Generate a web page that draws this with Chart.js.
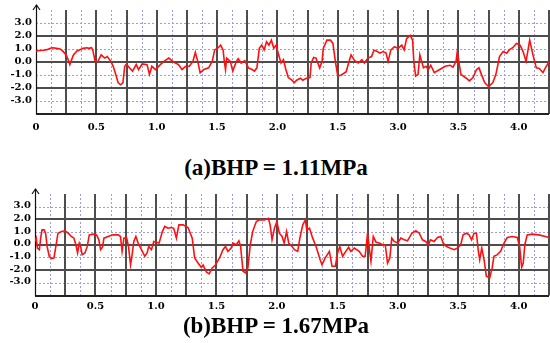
<!DOCTYPE html>
<html>
<head>
<meta charset="utf-8">
<script src="https://cdn.jsdelivr.net/npm/chart.js@4.4.0/dist/chart.umd.min.js"></script>
<style>
  body { margin: 0; background: #fff; }
  #wrap { position: relative; width: 550px; height: 343px; overflow: hidden; }
  #wrap canvas { position: absolute; left: 0; }
  #chartA { top: 0; }
  #chartB { top: 184px; }
  .caption {
    position: absolute; left: 0; width: 552px; text-align: center;
    font-family: "Liberation Serif", "Times New Roman", serif; font-weight: bold;
    font-size: 23px; line-height: 26px; color: #000;
  }
</style>
</head>
<body>
<div id="wrap">
  <canvas id="chartA" width="550" height="134"></canvas>
  <div class="caption" style="top:155px">(a)BHP = 1.11MPa</div>
  <canvas id="chartB" width="550" height="134"></canvas>
  <div class="caption" style="top:313px">(b)BHP = 1.67MPa</div>
</div>
<script>
// tick labels (the original figure prints "1.5" where 2.5 should be)
const xTickLabels = ["0", "0.5", "1.0", "1.5", "2.0", "1.5", "3.0", "3.5", "4.0"]
const yTickValues = [3, 2, 1, 0, -1, -2, -3]
const yTickLabels = ["3.0", "2.0", "1.0", "0.0", "-1.0", "-2.0", "-3.0"]

// (a) BHP = 1.11MPa
const xA = [0, 0.03, 0.06, 0.09, 0.12, 0.14, 0.17, 0.2, 0.22, 0.25, 0.27, 0.28, 0.29, 0.31, 0.34, 0.36, 0.39, 0.42, 0.44, 0.46,
  0.47, 0.49, 0.51, 0.54, 0.57, 0.59, 0.62, 0.64, 0.66, 0.68, 0.7, 0.72, 0.735, 0.75, 0.77, 0.8, 0.83, 0.85, 0.88, 0.92,
  0.94, 0.96, 0.99, 1.03, 1.06, 1.1, 1.14, 1.18, 1.21, 1.24, 1.27, 1.3, 1.32, 1.34, 1.36, 1.39, 1.43, 1.46, 1.48, 1.51,
  1.53, 1.55, 1.56, 1.57, 1.58, 1.61, 1.63, 1.66, 1.675, 1.7, 1.73, 1.76, 1.79, 1.81, 1.83, 1.85, 1.87, 1.89, 1.91, 1.93,
  1.95, 1.97, 1.99, 2.01, 2.03, 2.05, 2.07, 2.09, 2.12, 2.14, 2.16, 2.19, 2.21, 2.24, 2.27, 2.28, 2.3, 2.32, 2.35, 2.37,
  2.38, 2.41, 2.44, 2.46, 2.48, 2.5, 2.53, 2.57, 2.59, 2.61, 2.64, 2.67, 2.7, 2.72, 2.75, 2.78, 2.8, 2.82, 2.85, 2.875,
  2.9, 2.917, 2.94, 2.97, 3.0, 3.03, 3.05, 3.07, 3.1, 3.12, 3.13, 3.145, 3.165, 3.18, 3.21, 3.23, 3.25, 3.27, 3.3, 3.345,
  3.39, 3.43, 3.455, 3.48, 3.49, 3.505, 3.52, 3.565, 3.59, 3.62, 3.65, 3.67, 3.69, 3.717, 3.75, 3.785, 3.81, 3.84, 3.87, 3.9,
  3.92, 3.95, 3.98, 4.01, 4.035, 4.06, 4.09, 4.117, 4.145, 4.17, 4.2, 4.22, 4.25]
const yA = [0.85, 0.88, 0.9, 0.95, 1.05, 1.1, 1.05, 1.0, 0.85, 0.55, 0.1, -0.2, 0.05, 0.55, 0.85, 0.93, 1.05, 1.1, 1.05, 1.1,
  0.93, 0.05, 0.0, 0.55, 0.3, 0.42, 0.05, -0.33, -0.95, -1.58, -1.75, -1.6, -0.33, -0.15, -0.4, -0.7, -0.2, -0.58, -0.15, -0.2,
  -0.95, -0.33, -0.58, -0.2, 0.05, 0.3, 0.0, -0.2, -0.58, -0.33, -0.33, 0.05, 0.75, 0.05, -0.82, -0.58, -0.45, 0.05, 0.93, 1.1,
  1.3, 0.93, 0.05, -0.58, 0.3, 0.05, -0.7, 0.05, 0.25, -0.08, 0.1, -0.45, -0.58, -0.7, -0.45, 1.05, 1.3, 0.93, 1.55, 1.3,
  1.68, 1.05, 1.3, 0.55, -0.08, 0.18, -0.58, -1.2, -1.4, -1.58, -1.4, -1.25, -1.4, -1.25, -1.2, -0.08, 0.35, 0.3, -0.45, 0.05,
  1.05, 1.68, 1.68, 1.43, 0.05, -1.08, -1.0, -0.75, -0.08, 0.55, 0.1, -0.08, 0.18, -0.08, 0.3, 0.42, 0.9, 0.85, 0.68, 0.8,
  0.68, 0.05, 0.93, 1.18, 1.05, 1.3, 0.93, 1.8, 2.05, 1.68, 0.05, -1.08, -0.95, 0.55, -0.45, -0.33, -0.58, -0.25, -0.82, -0.58,
  -0.33, -0.25, -0.4, 0.05, 0.8, -0.08, -0.95, -1.25, -1.45, -1.2, -0.58, -0.45, -0.95, -1.58, -1.9, -1.58, -0.95, 0.42, 0.8, 0.68,
  0.93, 1.1, 1.43, 1.3, 0.8, 0.05, 1.68, 0.55, -0.45, -0.5, -0.82, -0.45, 0.0]

// (b) BHP = 1.67MPa
const xB = [0, 0.01, 0.02, 0.036, 0.047, 0.058, 0.075, 0.088, 0.1, 0.118, 0.138, 0.157, 0.17, 0.19, 0.22, 0.248, 0.275, 0.3, 0.322, 0.338,
  0.352, 0.366, 0.377, 0.39, 0.413, 0.432, 0.449, 0.48, 0.509, 0.528, 0.542, 0.558, 0.57, 0.605, 0.646, 0.688, 0.707, 0.72, 0.735, 0.757,
  0.773, 0.79, 0.803, 0.817, 0.834, 0.853, 0.88, 0.908, 0.927, 0.94, 0.963, 0.982, 1.004, 1.026, 1.053, 1.073, 1.1, 1.128, 1.147, 1.169,
  1.19, 1.224, 1.265, 1.3, 1.32, 1.348, 1.375, 1.39, 1.417, 1.44, 1.465, 1.49, 1.526, 1.554, 1.575, 1.595, 1.622, 1.636, 1.664, 1.686,
  1.7, 1.72, 1.74, 1.76, 1.78, 1.8, 1.83, 1.856, 1.897, 1.93, 1.944, 1.96, 1.98, 2.0, 2.02, 2.043, 2.06, 2.08, 2.098, 2.125,
  2.145, 2.172, 2.19, 2.214, 2.236, 2.247, 2.27, 2.296, 2.324, 2.357, 2.373, 2.4, 2.434, 2.456, 2.483, 2.502, 2.52, 2.543, 2.57, 2.593,
  2.612, 2.64, 2.68, 2.708, 2.73, 2.75, 2.764, 2.778, 2.797, 2.82, 2.846, 2.874, 2.896, 2.915, 2.934, 2.95, 2.97, 3.0, 3.025, 3.053,
  3.08, 3.116, 3.149, 3.177, 3.204, 3.23, 3.253, 3.27, 3.3, 3.328, 3.355, 3.375, 3.4, 3.43, 3.465, 3.493, 3.52, 3.54, 3.567, 3.589,
  3.61, 3.63, 3.65, 3.666, 3.677, 3.694, 3.713, 3.732, 3.76, 3.78, 3.795, 3.823, 3.85, 3.878, 3.905, 3.946, 3.988, 4.007, 4.024, 4.037,
  4.05, 4.07, 4.11, 4.166, 4.22, 4.25]
const yB = [0.26, 0.52, -0.26, -0.39, 0.52, 1.17, 1.17, 0.91, -0.13, -0.91, -1.1, -1.04, -0.26, 0.91, 1.04, 1.1, 0.91, 0.65, 0.52, 0,
  -0.65, 0.13, -0.13, -0.78, -0.65, -0.13, 0.78, 0.84, 0.78, 0.39, -0.39, -0.2, 0.52, 0.65, 0.78, 0.78, 0.65, -0.52, 0.52, 0.57,
  -0.13, -1.57, -0.78, 0.26, 0.65, 0.13, -0.39, -0.91, -0.65, -0.13, -0.39, 0.26, 0.2, 0.13, 1.04, 1.44, 1.3, 1.36, 1.3, 0.52,
  1.57, 1.57, 1.36, 0.52, -1.04, -1.44, -1.78, -1.6, -2.15, -2.3, -1.83, -1.62, -1.04, -0.39, -0.13, -0.52, -0.26, 0.13, 0, 0.31,
  -0.13, -2.09, -2.22, -1.83, 0, 1.04, 1.83, 1.96, 1.96, 2.09, 1.57, 0.39, 1.3, 1.83, 0.91, 0.65, 0.13, 1.04, 0.13, -0.13,
  -0.39, -0.52, 0.52, 1.57, 1.96, 1.17, 1.3, 0.52, -0.13, -1.17, -1.57, -1.04, -0.52, -1.7, -1.7, -0.65, -0.13, -0.91, -0.52, -0.2,
  -0.52, -0.26, -0.52, -0.91, -0.91, 0.91, -0.26, -1.3, 0.65, 0.2, 0.13, 0, 0, -1.44, -1.04, 0.52, 0.26, 0.13, 0.52, 0.39,
  0.31, 0.91, 1.1, 0.91, 0.39, 0.26, 0, 0.39, 0.26, 0.57, 0.65, 0.13, -0.13, -0.26, -0.39, -0.26, 0, 0.78, 0.91, 0.78,
  0.39, 0.91, 0.91, -0.52, -1.17, -0.26, -1.17, -2.48, -2.61, -1.83, -0.91, -0.78, -0.52, 0.13, 0.57, 0.65, 0.57, -0.13, -1.78, -1.44,
  0, 0.78, 0.84, 0.78, 0.65, 0.57]

const tickFont = { family: "DejaVu Serif", weight: "bold", size: 10 }

// grid: dark lines every 0.25 / 2.0, dotted blue lines in between, axis with arrow
const panelGrid = {
  id: "panelGrid",
  beforeDatasetsDraw(chart) {
    const { ctx, chartArea: a, scales } = chart
    const x = scales.x
    const y = scales.y
    ctx.save()

    // dotted blue
    ctx.strokeStyle = "#9c9ce2"
    ctx.lineWidth = 1
    ctx.setLineDash([2, 2])
    for (let k = 1; k <= 34; k += 2) {
      const px = Math.round(x.getPixelForValue(k * 0.125)) + 0.5
      ctx.beginPath(); ctx.moveTo(px, a.top); ctx.lineTo(px, a.bottom); ctx.stroke()
    }
    for (let v = -3; v <= 3; v += 2) {
      const py = Math.round(y.getPixelForValue(v)) + 0.5
      ctx.beginPath(); ctx.moveTo(a.left, py); ctx.lineTo(a.right, py); ctx.stroke()
    }

    // dark grey
    ctx.setLineDash([])
    ctx.strokeStyle = "#4d4d4d"
    ctx.lineWidth = 2
    for (let k = 2; k <= 34; k += 2) {
      const px = Math.round(x.getPixelForValue(k * 0.125))
      ctx.beginPath(); ctx.moveTo(px, a.top); ctx.lineTo(px, a.bottom); ctx.stroke()
    }
    for (let v = -2; v <= 2; v += 2) {
      const py = Math.round(y.getPixelForValue(v))
      ctx.beginPath(); ctx.moveTo(a.left, py); ctx.lineTo(a.right, py); ctx.stroke()
    }

    // x axis
    ctx.strokeStyle = "#222"
    const by = Math.round(y.getPixelForValue(-4))
    ctx.beginPath(); ctx.moveTo(a.left, by); ctx.lineTo(a.right, by); ctx.stroke()

    // y axis with arrow
    const ax = Math.round(x.getPixelForValue(0)) + 0.5
    ctx.lineWidth = 1.2
    ctx.strokeStyle = "#111"
    ctx.beginPath(); ctx.moveTo(ax, by); ctx.lineTo(ax, a.top - 5); ctx.stroke()
    ctx.beginPath()
    ctx.moveTo(ax - 3.5, a.top); ctx.lineTo(ax, a.top - 5); ctx.lineTo(ax + 3.5, a.top)
    ctx.stroke()
    ctx.restore()
  },
}

function makePanel(canvasId, xs, ys, axisWidth, axisHeight, labelPad) {
  const points = xs.map((v, i) => ({ x: v, y: ys[i] }))
  return new Chart(document.getElementById(canvasId), {
    type: "line",
    data: {
      datasets: [{
        data: points,
        borderColor: "#ff1010",
        borderWidth: 1.6,
        pointRadius: 0,
        tension: 0,
      }],
    },
    options: {
      responsive: false,
      animation: false,
      devicePixelRatio: 1,
      layout: { padding: { top: 10, right: 1, left: 0, bottom: 0 } },
      plugins: { legend: { display: false }, tooltip: { enabled: false } },
      scales: {
        x: {
          type: "linear",
          min: 0,
          max: 4.25,
          grid: { display: false, drawTicks: false },
          border: { display: false },
          afterFit: (s) => { s.height = axisHeight },
          ticks: {
            stepSize: 0.5,
            includeBounds: false,
            autoSkip: false,
            maxRotation: 0,
            padding: labelPad,
            color: "#000",
            font: tickFont,
            callback: (value) => {
              const i = Math.round(value / 0.5)
              return Math.abs(value - i * 0.5) < 1e-6 && xTickLabels[i] ? xTickLabels[i] : ""
            },
          },
        },
        y: {
          min: -4,
          max: 4,
          grid: { display: false, drawTicks: false },
          border: { display: false },
          afterFit: (s) => { s.width = axisWidth },
          ticks: {
            stepSize: 1,
            autoSkip: false,
            padding: 4,
            labelOffset: -1,
            color: "#000",
            font: tickFont,
            callback: (value) => {
              const i = yTickValues.indexOf(value)
              return i >= 0 ? yTickLabels[i] : ""
            },
          },
        },
      },
    },
    plugins: [panelGrid],
  })
}

makePanel("chartA", xA, yA, 36, 20, 7)
makePanel("chartB", xB, yB, 35, 22.5, 5)
</script>
</body>
</html>
